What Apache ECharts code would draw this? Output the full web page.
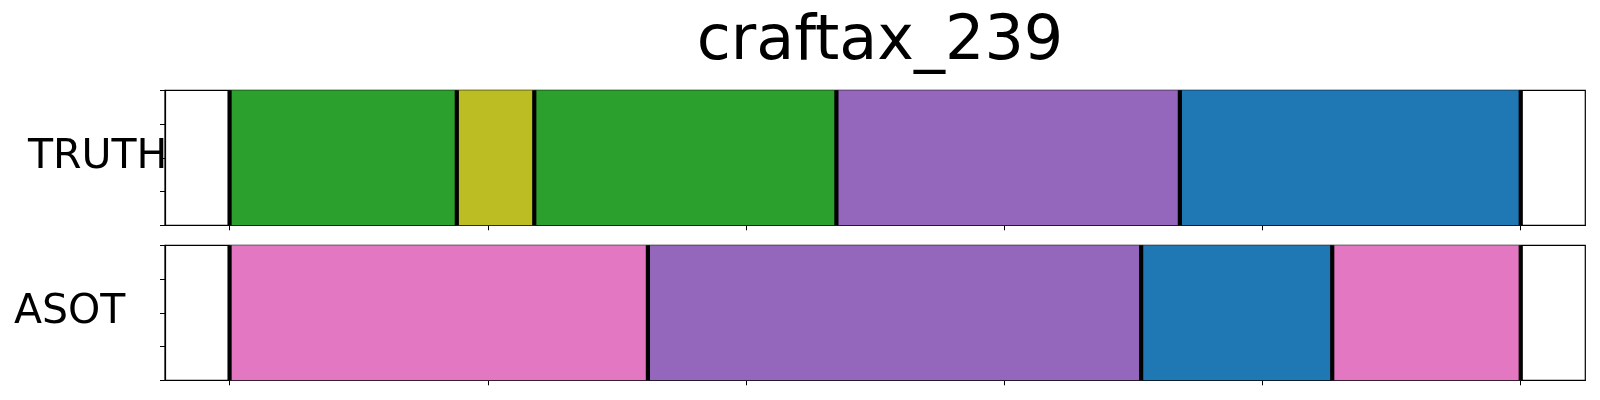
<!DOCTYPE html>
<html>
<head>
<meta charset="utf-8">
<script src="https://cdn.jsdelivr.net/npm/echarts@6/dist/echarts.min.js"></script>
<style>html,body{margin:0;padding:0;background:#fff}#c{width:1600px;height:400px}</style>
</head>
<body>
<div id="c"></div>
<script>
const titleText = 'craftax_239';
const rowNames = ['TRUTH', 'ASOT'];
const classNames = ['blue', 'green', 'purple', 'olive', 'pink'];
const classColors = ['#1f77b4', '#2ca02c', '#9467bd', '#bcbd22', '#e377c2'];
const truthBounds = [0, 88, 118, 235, 368, 500];
const truthLabels = ['green', 'olive', 'green', 'purple', 'blue'];
const asotBounds = [0, 162, 353, 427, 500];
const asotLabels = ['pink', 'purple', 'blue', 'pink'];
const xTickValues = [0, 100, 200, 300, 400, 500];
const yTickValues = [0, 0.25, 0.5, 0.75, 1];

function segs(bounds, labels) {
  return labels.map((l, i) => [bounds[i], bounds[i + 1], classNames.indexOf(l)]);
}
function lines(bounds) { return bounds.map(b => [b]); }

const chart = echarts.init(document.getElementById('c'), null, { renderer: 'canvas' });
const FONT = 'DejaVu Sans';

function rectItem(params, api) {
  const p0 = api.coord([api.value(0), 1]);
  const p1 = api.coord([api.value(1), 0]);
  const ci = api.value(2);
  return { type: 'rect', shape: { x: p0[0], y: p0[1], width: p1[0] - p0[0], height: p1[1] - p0[1] },
           style: { fill: classColors[ci] } };
}
function lineItem(params, api) {
  const p0 = api.coord([api.value(0), 1]);
  const p1 = api.coord([api.value(0), 0]);
  return { type: 'line', shape: { x1: p0[0], y1: p0[1], x2: p1[0], y2: p1[1] },
           style: { stroke: '#000', lineWidth: 4.2 } };
}

const grids = [
  { left: 165, right: 14.7, top: 90.3, height: 135, show: true, borderColor: '#000', borderWidth: 1.2, backgroundColor: '#fff' },
  { left: 165, right: 14.7, top: 245.3, height: 135, show: true, borderColor: '#000', borderWidth: 1.2, backgroundColor: '#fff' }
];
const xAxes = [0, 1].map(i => ({
  type: 'value', gridIndex: i, min: -25, max: 525,
  axisLine: { show: true, onZero: false, lineStyle: { color: '#000', width: 1.2 } },
  axisTick: { show: true, inside: false, length: 5, customValues: xTickValues, lineStyle: { color: '#000', width: 1 } },
  axisLabel: { show: false },
  splitLine: { show: false }
}));
const yAxes = [0, 1].map(i => ({
  type: 'value', gridIndex: i, min: 0, max: 1, interval: 0.25,
  axisLine: { show: true, onZero: false, lineStyle: { color: '#000', width: 1.2 } },
  axisTick: { show: true, inside: false, length: 5, customValues: yTickValues, lineStyle: { color: '#000', width: 1 } },
  axisLabel: { show: false },
  splitLine: { show: false }
}));

chart.setOption({
  animation: false,
  backgroundColor: '#fff',
  title: { text: titleText, left: 875, top: 7, textAlign: 'center',
           textStyle: { fontFamily: FONT, fontSize: 62, fontWeight: 'normal', color: '#000' } },
  grid: grids,
  xAxis: xAxes,
  yAxis: yAxes,
  graphic: [
    { type: 'text', left: 28, top: 137, z: 100, style: { text: rowNames[0], font: '41px "DejaVu Sans"', fill: '#000' } },
    { type: 'text', left: 14, top: 292, z: 100, style: { text: rowNames[1], font: '41px "DejaVu Sans"', fill: '#000' } }
  ],
  series: [
    { type: 'custom', xAxisIndex: 0, yAxisIndex: 0, renderItem: rectItem, data: segs(truthBounds, truthLabels), z: 1 },
    { type: 'custom', xAxisIndex: 0, yAxisIndex: 0, renderItem: lineItem, data: lines(truthBounds), z: 2 },
    { type: 'custom', xAxisIndex: 1, yAxisIndex: 1, renderItem: rectItem, data: segs(asotBounds, asotLabels), z: 1 },
    { type: 'custom', xAxisIndex: 1, yAxisIndex: 1, renderItem: lineItem, data: lines(asotBounds), z: 2 }
  ]
});
</script>
</body>
</html>
